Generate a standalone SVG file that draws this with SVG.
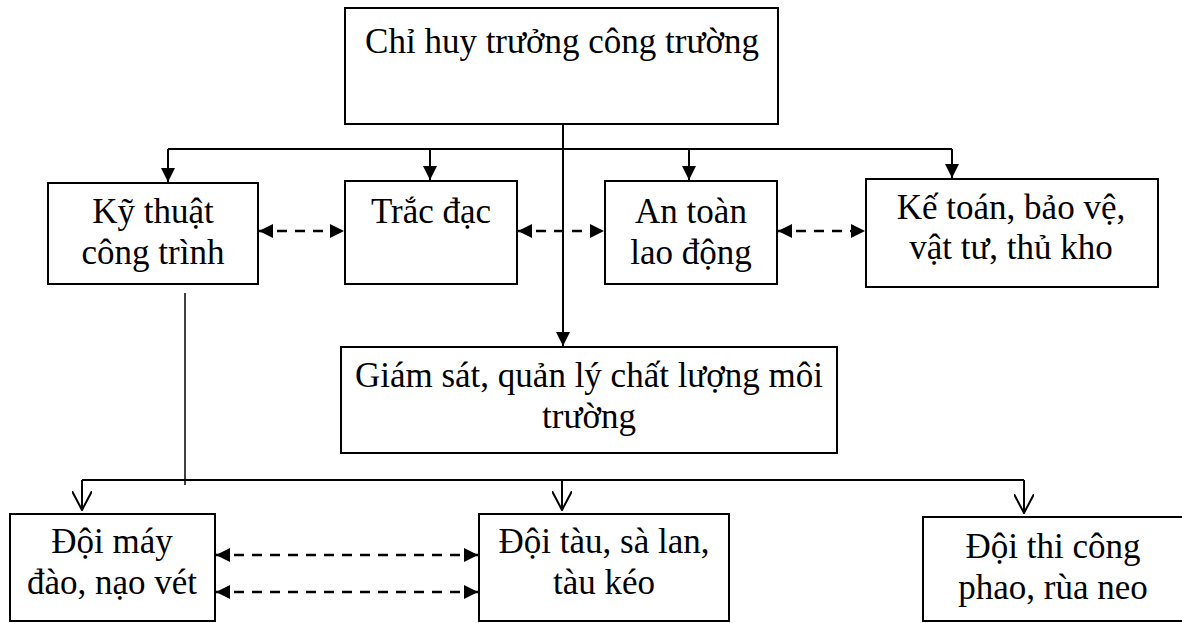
<svg xmlns="http://www.w3.org/2000/svg" width="1182" height="623" viewBox="0 0 1182 623">
  <style>
    .box { fill: #fff; stroke: #000; stroke-width: 2; }
    .lbl { font-family: "Liberation Serif", "Times New Roman", serif; font-size: 35px; fill: #000; text-anchor: middle; }
    .solid { fill: none; stroke: #000; stroke-width: 2; }
    .thin { fill: none; stroke: #000; stroke-width: 1.5; }
    .bus { fill: none; stroke: #000; stroke-width: 2; }
    .dash { fill: none; stroke: #000; stroke-width: 2.5; stroke-dasharray: 10 8; }
  </style>
  <defs>
    <marker id="tri" viewBox="0 0 10 10" refX="10" refY="5" markerWidth="14" markerHeight="14" markerUnits="userSpaceOnUse" orient="auto-start-reverse">
      <path d="M0,0 L10,5 L0,10 Z" fill="#000"/>
    </marker>
    <marker id="tri-s" viewBox="0 0 10 10" refX="10" refY="5" markerWidth="14" markerHeight="14" markerUnits="userSpaceOnUse" orient="auto-start-reverse" preserveAspectRatio="none">
      <path d="M0,0 L10,5 L0,10 Z" fill="#000"/>
    </marker>
    <marker id="vee" viewBox="0 0 20 20" refX="19" refY="10" markerWidth="20" markerHeight="20" markerUnits="userSpaceOnUse" orient="auto">
      <path d="M0,0 L19,10 L0,20" fill="none" stroke="#000" stroke-width="2"/>
    </marker>
  </defs>

  <!-- connectors -->
  <g id="connectors">
    <!-- trunk from the site commander down to environmental monitoring -->
    <line class="solid" x1="563" y1="124" x2="563" y2="346" marker-end="url(#tri)"/>
    <!-- upper distribution bus -->
    <line class="solid" x1="168" y1="149" x2="952" y2="149"/>
    <line class="solid" x1="168" y1="149" x2="168" y2="182" marker-end="url(#tri)"/>
    <line class="solid" x1="430" y1="149" x2="430" y2="180" marker-end="url(#tri)"/>
    <line class="solid" x1="689" y1="149" x2="689" y2="180" marker-end="url(#tri)"/>
    <line class="solid" x1="952" y1="149" x2="952" y2="178" marker-end="url(#tri)"/>
    <!-- coordination links between departments -->
    <line class="dash" x1="259" y1="231" x2="344" y2="231" marker-start="url(#tri-s)" marker-end="url(#tri-s)"/>
    <line class="dash" x1="518" y1="231" x2="604" y2="231" marker-start="url(#tri-s)" marker-end="url(#tri-s)"/>
    <line class="dash" x1="778" y1="231" x2="865" y2="231" marker-start="url(#tri-s)" marker-end="url(#tri-s)"/>
    <!-- technical dept feed to the lower bus -->
    <line class="thin" x1="185" y1="293" x2="185" y2="485"/>
    <!-- lower distribution bus -->
    <line class="bus" x1="82" y1="480" x2="1024" y2="480"/>
    <line class="bus" x1="82" y1="480" x2="82" y2="510" marker-end="url(#vee)"/>
    <line class="bus" x1="562" y1="480" x2="562" y2="510" marker-end="url(#vee)"/>
    <line class="bus" x1="1024" y1="480" x2="1024" y2="513" marker-end="url(#vee)"/>
    <!-- links between the dredging and vessel teams -->
    <line class="dash" x1="216" y1="555" x2="478" y2="555" marker-start="url(#tri-s)" marker-end="url(#tri-s)"/>
    <line class="dash" x1="216" y1="592" x2="478" y2="592" marker-start="url(#tri-s)" marker-end="url(#tri-s)"/>
  </g>

  <g id="n-chi-huy">
    <rect class="box" x="345" y="8" width="433" height="116"/>
    <text class="lbl" x="562" y="53">Chỉ huy trưởng công trường</text>
  </g>

  <g id="n-ky-thuat">
    <rect class="box" x="48" y="183" width="210" height="101"/>
    <text class="lbl" x="153" y="223">Kỹ thuật</text>
    <text class="lbl" x="153" y="264">công trình</text>
  </g>

  <g id="n-trac-dac">
    <rect class="box" x="345" y="181" width="172" height="103"/>
    <text class="lbl" x="431" y="223">Trắc đạc</text>
  </g>

  <g id="n-an-toan">
    <rect class="box" x="605" y="181" width="172" height="103"/>
    <text class="lbl" x="691" y="223">An toàn</text>
    <text class="lbl" x="691" y="264">lao động</text>
  </g>

  <g id="n-ke-toan">
    <rect class="box" x="866" y="179" width="292" height="108"/>
    <text class="lbl" x="1011" y="219">Kế toán, bảo vệ,</text>
    <text class="lbl" x="1011" y="259">vật tư, thủ kho</text>
  </g>

  <g id="n-giam-sat">
    <rect class="box" x="341" y="347" width="496" height="106"/>
    <text class="lbl" x="589" y="387">Giám sát, quản lý chất lượng môi</text>
    <text class="lbl" x="589" y="428">trường</text>
  </g>

  <g id="n-doi-may">
    <rect class="box" x="10" y="514" width="205" height="107"/>
    <text class="lbl" x="112" y="553">Đội máy</text>
    <text class="lbl" x="112" y="594">đào, nạo vét</text>
  </g>

  <g id="n-doi-tau">
    <rect class="box" x="479" y="514" width="250" height="107"/>
    <text class="lbl" x="604" y="553">Đội tàu, sà lan,</text>
    <text class="lbl" x="604" y="594">tàu kéo</text>
  </g>

  <g id="n-doi-thi-cong">
    <rect class="box" x="923" y="517" width="270" height="104"/>
    <text class="lbl" x="1053" y="558">Đội thi công</text>
    <text class="lbl" x="1053" y="599">phao, rùa neo</text>
  </g>
</svg>
